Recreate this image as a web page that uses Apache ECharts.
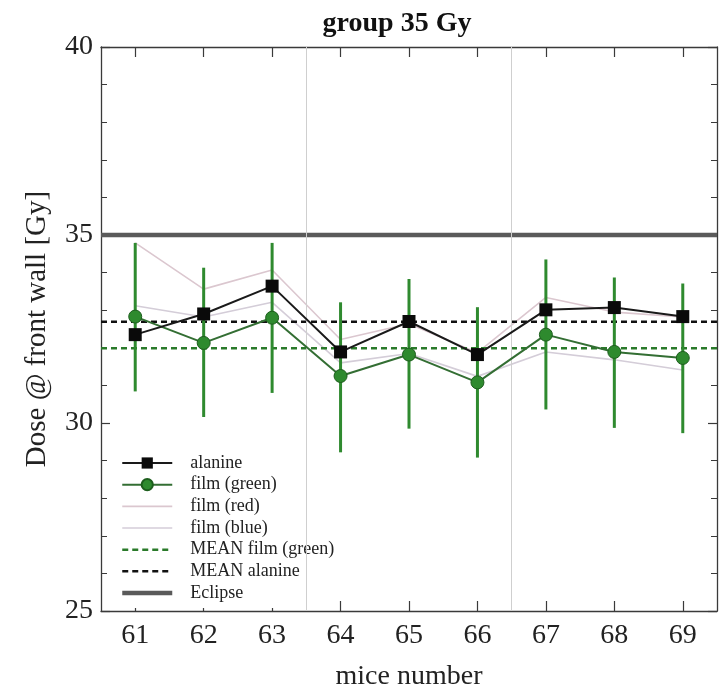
<!DOCTYPE html>
<html>
<head>
<meta charset="utf-8">
<script src="https://cdn.jsdelivr.net/npm/echarts@6/dist/echarts.min.js"></script>
<style>
  html, body { margin: 0; padding: 0; background: #fff; }
  #chart { width: 720px; height: 696px; }
</style>
</head>
<body>
<div id="chart"></div>
<script>
// Mice numbers along the x axis
const mice = [61, 62, 63, 64, 65, 66, 67, 68, 69];
// Dose at the front wall [Gy]
const alanine = [32.35, 32.90, 33.64, 31.89, 32.70, 31.82, 33.01, 33.07, 32.83];
const filmGreen = [32.83, 32.13, 32.80, 31.25, 31.82, 31.08, 32.35, 31.89, 31.73];
const filmGreenLow = [30.84, 30.16, 30.80, 29.22, 29.85, 29.08, 30.36, 29.87, 29.73];
const filmGreenHigh = [34.79, 34.13, 34.79, 33.21, 33.83, 33.08, 34.35, 33.87, 33.71];
const filmRed = [34.79, 33.56, 34.07, 32.22, 32.64, 31.87, 33.34, 32.95, 32.82];
const filmBlue = [33.12, 32.82, 33.21, 31.60, 31.85, 31.24, 31.89, 31.68, 31.41];
// Planned dose from the Eclipse plan
const eclipseDose = 35;
// Group separators between mice
const separators = [63.5, 66.5];
// Axis ranges and tick labels
const xRange = [60.5, 69.5];
const yTicks = [25, 30, 35, 40];

const FONT = 'Liberation Serif';
const mean = arr => arr.reduce((s, v) => s + v, 0) / arr.length;
const pairs = arr => mice.map((m, i) => [m, arr[i]]);
const flat = v => [[xRange[0], v], [xRange[1], v]];

const chart = echarts.init(document.getElementById('chart'), null, { renderer: 'canvas' });

const axisLine = { show: true, lineStyle: { color: '#3a3a3a', width: 1.3 } };

// Line widths shared by the plot and its legend
const widths = {
  'alanine': 2, 'film (green)': 2, 'film (red)': 1.6, 'film (blue)': 1.6,
  'MEAN film (green)': 2.5, 'MEAN alanine': 2.5, 'Eclipse': 4.5
};

// Marker-free line series
function plainLine(name, data, color, dash) {
  return {
    name, type: 'line', data,
    symbol: 'circle', showSymbol: false,
    color,
    lineStyle: { color, width: widths[name], type: dash || 'solid' },
    emphasis: { disabled: true }
  };
}

const redSeries = plainLine('film (red)', pairs(filmRed), '#dbc7cf');
redSeries.markLine = {
  silent: true, symbol: 'none', label: { show: false },
  lineStyle: { color: '#cfcfcf', width: 1, type: 'solid' },
  data: separators.map(v => ({ xAxis: v }))
};

// Legend entries; plain lines hide the marker in their legend icon
const legendNames = ['alanine', 'film (green)', 'film (red)', 'film (blue)', 'MEAN film (green)', 'MEAN alanine', 'Eclipse'];
const markedNames = ['alanine', 'film (green)'];
const legendData = legendNames.map(n => {
  const item = { name: n, lineStyle: { width: widths[n] } };
  if (!markedNames.includes(n)) item.itemStyle = { opacity: 0 };
  return item;
});

chart.setOption({
  animation: false,
  backgroundColor: '#ffffff',
  title: {
    text: 'group 35 Gy',
    left: 392,
    textAlign: 'center',
    top: 5,
    textStyle: { fontFamily: FONT, fontSize: 28, fontWeight: 'bold', color: '#111' }
  },
  grid: { left: 101, right: 3, top: 47, bottom: 80, containLabel: false },
  legend: {
    orient: 'vertical',
    left: 110,
    top: 450,
    padding: [4, 2, 6, 10],
    itemWidth: 50,
    itemHeight: 14,
    itemGap: 3.67,
    backgroundColor: '#ffffff',
    textStyle: { fontFamily: FONT, fontSize: 18, color: '#222', lineHeight: 17, padding: [0, 0, 0, 13] },
    data: legendData
  },
  xAxis: [
    {
      type: 'value', position: 'bottom', min: xRange[0], max: xRange[1],
      axisLine,
      splitLine: { show: false },
      axisTick: { inside: true, length: 10, customValues: mice, lineStyle: { color: '#3a3a3a', width: 1.2 } },
      axisLabel: { customValues: mice, margin: 11, fontFamily: FONT, fontSize: 28, color: '#222' },
      name: 'mice number', nameLocation: 'middle', nameGap: 52,
      nameTextStyle: { fontFamily: FONT, fontSize: 28, color: '#222' }
    },
    {
      type: 'value', position: 'top', min: xRange[0], max: xRange[1],
      axisLine,
      splitLine: { show: false },
      axisTick: { inside: true, length: 10, customValues: mice, lineStyle: { color: '#3a3a3a', width: 1.2 } },
      axisLabel: { show: false }
    }
  ],
  yAxis: [
    {
      type: 'value', position: 'left', min: yTicks[0], max: yTicks[yTicks.length - 1], interval: 5,
      axisLine,
      splitLine: { show: false },
      axisTick: { inside: true, length: 9, lineStyle: { color: '#3a3a3a', width: 1.2 } },
      minorTick: { show: true, splitNumber: 5, length: 6, lineStyle: { color: '#3a3a3a', width: 1 } },
      axisLabel: { margin: 8, fontFamily: FONT, fontSize: 28, color: '#222' },
      name: 'Dose @ front wall [Gy]', nameLocation: 'middle', nameGap: 49,
      nameTextStyle: { fontFamily: FONT, fontSize: 29, color: '#222' }
    },
    {
      type: 'value', position: 'right', min: yTicks[0], max: yTicks[yTicks.length - 1], interval: 5,
      axisLine,
      splitLine: { show: false },
      axisTick: { inside: true, length: 9, lineStyle: { color: '#3a3a3a', width: 1.2 } },
      minorTick: { show: true, splitNumber: 5, length: 6, lineStyle: { color: '#3a3a3a', width: 1 } },
      axisLabel: { show: false }
    }
  ],
  series: [
    redSeries,
    plainLine('film (blue)', pairs(filmBlue), '#d4cdd8'),
    plainLine('Eclipse', flat(eclipseDose), '#5a5a5a'),
    plainLine('MEAN film (green)', flat(mean(filmGreen)), '#2a7a2a', [6, 4]),
    plainLine('MEAN alanine', flat(mean(alanine)), '#111111', [6, 4]),
    {
      name: 'film (green) error', type: 'custom', z: 5,
      data: mice.map((m, i) => [m, filmGreenLow[i], filmGreenHigh[i]]),
      encode: { x: 0, y: [1, 2] },
      renderItem: (params, api) => {
        const lo = api.coord([api.value(0), api.value(1)]);
        const hi = api.coord([api.value(0), api.value(2)]);
        return {
          type: 'line',
          shape: { x1: lo[0], y1: lo[1], x2: hi[0], y2: hi[1] },
          style: { stroke: '#2f8a2f', lineWidth: 3 }
        };
      }
    },
    {
      name: 'film (green)', type: 'line', data: pairs(filmGreen), z: 6,
      symbol: 'circle', symbolSize: 13, color: '#2e8a2e',
      itemStyle: { color: '#2e8a2e', borderColor: '#1d5e1d', borderWidth: 1 },
      lineStyle: { color: '#336e33', width: widths['film (green)'] }
    },
    {
      name: 'alanine', type: 'line', data: pairs(alanine), z: 7,
      symbol: 'rect', symbolSize: 13, color: '#111',
      itemStyle: { color: '#0a0a0a' },
      lineStyle: { color: '#1a1a1a', width: widths['alanine'] }
    }
  ]
});
</script>
</body>
</html>
